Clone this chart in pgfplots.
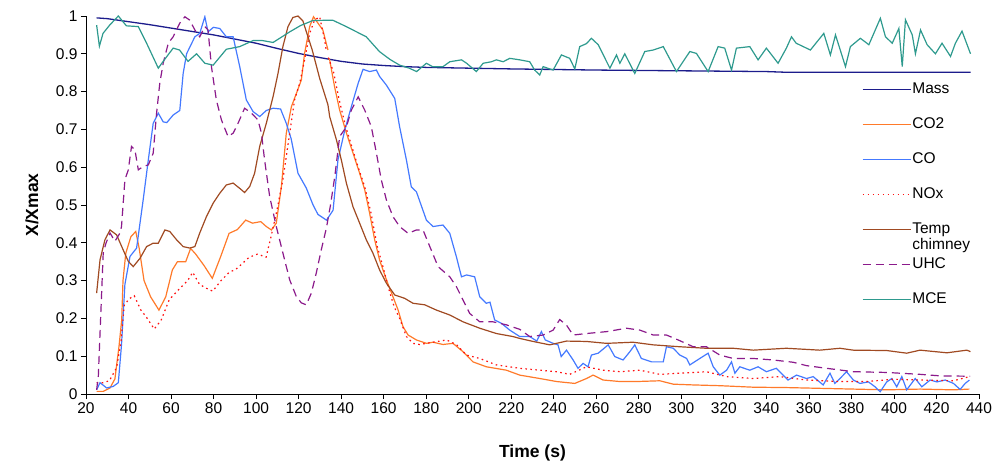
\documentclass[border=0pt]{standalone}
\usepackage{pgfplots}
\pgfplotsset{compat=1.18}
\usepackage{fontspec}
\setmainfont{Liberation Sans}
\definecolor{cMass}{HTML}{1C1C8C}
\definecolor{cCO2}{HTML}{FF7A2A}
\definecolor{cCO}{HTML}{4479FF}
\definecolor{cNOx}{HTML}{FF1010}
\definecolor{cTemp}{HTML}{A04A22}
\definecolor{cUHC}{HTML}{8B1A8B}
\definecolor{cMCE}{HTML}{2E9A8E}
\begin{document}
\begin{tikzpicture}
\begin{axis}[
  scale only axis, width=893pt, height=378pt,
  xmin=20, xmax=440, ymin=0, ymax=1,
  axis x line*=bottom, axis y line*=left,
  axis line style={black, line width=0.8pt, -},
  xtick={20,40,...,440},
  ytick={0,0.1,0.2,0.3,0.4,0.5,0.6,0.7,0.8,0.9,1},
  yticklabels={0,0.1,0.2,0.3,0.4,0.5,0.6,0.7,0.8,0.9,1},
  tick align=outside, major tick length=5pt,
  tick style={black, line width=0.8pt},
  /pgf/number format/assume math mode=true,
  tick label style={font=\fontsize{15.5}{18}\selectfont},
  xlabel={\textbf{Time (s)}}, ylabel={\textbf{X/Xmax}},
  every axis x label/.style={at={(axis description cs:0.5,-0.156)}, anchor=center, font=\fontsize{17.5}{20}\selectfont},
  every axis y label/.style={at={(axis description cs:-0.0605,0.5)}, rotate=90, anchor=center, font=\fontsize{17.5}{20}\selectfont},
  unbounded coords=jump,
  legend style={at={(axis cs:384.9,0.827)}, anchor=north west, draw=none, fill=none,
    inner sep=0pt, row sep=19pt, font=\fontsize{15.5}{16}\selectfont,
    nodes={inner sep=1pt, text height=11pt, text depth=3pt}},
  legend cell align=left,
  legend image code/.code={\draw[#1] (0pt,0pt) -- (48pt,0pt);},
  every axis plot/.append style={line width=1.2pt},
]
% Mass
\addplot[cMass, line width=1.3pt] coordinates {(25,0.995)(30,0.993)(40,0.985)(50,0.977)(60,0.968)(70,0.959)(80,0.95)(90,0.939)(100,0.928)(110,0.914)(120,0.901)(130,0.89)(140,0.88)(150,0.873)(160,0.869)(170,0.866)(180,0.864)(200,0.862)(220,0.86)(260,0.857)(300,0.855)(340,0.853)(350,0.851)(436,0.851)};
\addlegendentry{Mass}
% CO2
\addplot[cCO2] coordinates {(25,0.007)(28.1,0.007)(31.3,0.016)(33.6,0.04)(35.5,0.125)(36.8,0.196)(37.4,0.30)(38.7,0.372)(41.1,0.416)(43.4,0.43)(45,0.386)(47.3,0.30)(50.4,0.257)(54.3,0.222)(57.5,0.257)(60.6,0.328)(63,0.35)(66.9,0.35)(69.2,0.385)(71.6,0.37)(75.5,0.34)(79.4,0.306)(83.3,0.363)(87.3,0.425)(91.2,0.435)(95.1,0.46)(98.3,0.452)(102.2,0.456)(104.8,0.443)(107.2,0.434)(109.5,0.452)(111.9,0.549)(114.2,0.69)(116.6,0.76)(119,0.796)(121.3,0.831)(122.8,0.901)(125.2,0.972)(127,0.998)(129.1,0.981)(131.4,0.963)(133.8,0.91)(133.9,nan)
(134,0.888)(134.6,0.884)(136.9,0.813)(139.3,0.751)(142.5,0.69)(145.6,0.637)(148.7,0.584)(151.1,0.54)(153.4,0.478)(155.8,0.407)(158.1,0.354)(161.3,0.302)(164.4,0.257)(166.8,0.222)(169.1,0.178)(171.5,0.156)(175.4,0.143)(180.1,0.134)(183.2,0.137)(187.9,0.131)(192.6,0.134)(197.3,0.112)(202,0.085)(208.3,0.072)(217.7,0.063)(224,0.05)(233.4,0.041)(241.3,0.033)(249.9,0.028)(255.4,0.041)(258.5,0.05)(263.2,0.037)(271.1,0.033)(278.9,0.033)(289.9,0.035)(296.2,0.026)(305.6,0.024)(318.1,0.022)(333.8,0.018)(349.4,0.017)(365.1,0.015)(380.9,0.013)(396.6,0.011)(412.3,0.013)(428,0.011)(435.5,0.013)};
\addlegendentry{CO2}
% CO
\addplot[cCO] coordinates {(25,0.011)(26.6,0.03)(29.7,0.016)(32.8,0.02)(35.2,0.03)(36.7,0.13)(38.3,0.29)(40.7,0.364)(43.8,0.386)(46.9,0.514)(49.3,0.619)(51.6,0.716)(54,0.743)(56.3,0.72)(58,0.718)(61,0.738)(64.1,0.75)(65.7,0.848)(67.3,0.9)(71.2,0.945)(73.5,0.954)(75.9,0.998)(77.4,0.958)(79.9,0.97)(82.9,0.967)(86,0.945)(89.2,0.945)(92.3,0.866)(95.4,0.778)(98.6,0.747)(101.7,0.734)(104.8,0.75)(108,0.756)(111.5,0.754)(114.2,0.716)(116.5,0.675)(119.7,0.584)(123.6,0.545)(126.8,0.5)(129.1,0.475)(133.1,0.46)(136.2,0.486)(138.5,0.619)(141.7,0.698)(144.8,0.76)(148,0.822)(150.3,0.859)(153.4,0.853)(156.6,0.857)(158.1,0.84)(161.3,0.817)(165.2,0.782)(167.5,0.707)(170.7,0.619)(173,0.548)(175.4,0.535)(180.1,0.46)(183.2,0.443)(187.9,0.447)(191.1,0.425)(194.2,0.363)(196.6,0.31)(199,0.315)(202.8,0.31)(205.2,0.257)(208.3,0.24)(210,0.243)(212.2,0.196)(215.4,0.187)(219.3,0.169)(224,0.152)(228.7,0.152)(232,0.14)(234.2,0.165)(236,0.143)(239.7,0.134)(242,0.13)(243.5,0.099)(246,0.116)(249.1,0.09)(251.4,0.068)(253.8,0.081)(256.1,0.072)(257.7,0.103)(260.9,0.108)(265.6,0.13)(268.7,0.099)(272.6,0.09)(275.8,0.112)(278.1,0.13)(281.2,0.094)(286,0.085)(291.5,0.085)(293,0.125)(296.2,0.121)(299.3,0.103)(302.5,0.094)(304,0.077)(308.7,0.094)(312.6,0.108)(315,0.072)(318.1,0.05)(321.3,0.063)(323.6,0.085)(325.2,0.055)(327.5,0.072)(332.2,0.063)(336.1,0.072)(340,0.059)(344.7,0.068)(347.9,0.05)(350.2,0.037)(354.2,0.05)(358.9,0.041)(362,0.046)(366.7,0.024)(369.9,0.055)(372.2,0.028)(374.6,0.041)(377.7,0.059)(380.9,0.037)(384,0.028)(388,0.032)(391.1,0.019)(393.5,0.006)(396.6,0.032)(399,0.041)(401.3,0.019)(403.7,0.046)(406,0.011)(410,0.041)(413.1,0.019)(417,0.037)(420.2,0.032)(424.1,0.037)(428,0.028)(431.1,0.012)(433.5,0.028)(435.5,0.037)};
\addlegendentry{CO}
% NOx
\addplot[cNOx, dash pattern=on 1.6pt off 3.4pt] coordinates {(25,0.03)(28.1,0.03)(31,0.035)(34.4,0.07)(36.5,0.14)(38,0.235)(40.3,0.252)(42.7,0.26)(45.8,0.222)(48.2,0.205)(52.1,0.172)(55.3,0.195)(59.2,0.25)(63.9,0.278)(67.8,0.3)(70.2,0.322)(73.4,0.29)(76.5,0.28)(79.6,0.272)(83.5,0.3)(87.4,0.322)(90.5,0.33)(93.7,0.346)(96.8,0.362)(100.7,0.37)(104.7,0.362)(107.1,0.418)(109.5,0.478)(112.6,0.567)(115.8,0.69)(118.1,0.778)(120.5,0.822)(122.8,0.884)(125.2,0.954)(127.5,0.989)(129.9,0.998)(132.2,0.937)(133,0.91)(133.3,nan)
(134,0.89)(136.5,0.85)(139,0.78)(142,0.71)(145,0.655)(148,0.6)(151,0.55)(154,0.48)(157,0.39)(160,0.33)(162.8,0.27)(165,0.23)(167.5,0.2)(170.7,0.152)(173.8,0.134)(176.9,0.131)(183.2,0.137)(189.5,0.143)(194.2,0.131)(198.9,0.103)(205.2,0.094)(213,0.077)(224,0.068)(233.4,0.063)(241.3,0.059)(247.5,0.052)(255.4,0.072)(263.2,0.063)(271.1,0.059)(280.5,0.063)(289.9,0.052)(299.3,0.055)(311.8,0.059)(321.3,0.046)(333.8,0.041)(346.3,0.046)(358.9,0.037)(374.6,0.033)(387.1,0.033)(399.7,0.039)(412.3,0.037)(428,0.035)(435.5,0.046)};
\addlegendentry{NOx}
% Temp chimney
\addplot[cTemp] coordinates {(25,0.267)(26.6,0.355)(28.9,0.408)(31.3,0.434)(34.4,0.421)(37.5,0.381)(39.9,0.351)(42.2,0.337)(45.4,0.359)(48.5,0.39)(51.6,0.399)(54,0.399)(57.1,0.434)(59.4,0.43)(62.6,0.408)(65.7,0.39)(68.8,0.386)(71.2,0.39)(73.5,0.426)(76.7,0.47)(79.8,0.505)(82.9,0.531)(86,0.553)(89.2,0.558)(92.3,0.544)(94.6,0.533)(97,0.549)(99.3,0.584)(101.7,0.655)(104.8,0.716)(108,0.787)(110.3,0.848)(112.6,0.919)(115,0.972)(117.3,0.996)(119.7,1.0)(122,0.987)(124.4,0.945)(126.4,0.91)(129.9,0.835)(133.8,0.765)(134.6,0.734)(137.8,0.672)(140.1,0.619)(142.5,0.557)(145.6,0.495)(148.7,0.452)(151.9,0.407)(155,0.372)(158.1,0.328)(161.3,0.293)(165.2,0.262)(169.9,0.253)(173.8,0.24)(179.3,0.236)(184.8,0.222)(191.1,0.209)(197.3,0.191)(205.2,0.174)(213,0.16)(220.8,0.152)(224,0.147)(230.3,0.139)(238.1,0.13)(246,0.14)(255.4,0.139)(264.8,0.134)(277.3,0.137)(286.8,0.13)(299.3,0.125)(311.8,0.121)(324.4,0.121)(333.8,0.116)(349.4,0.121)(365.1,0.116)(374.6,0.121)(380.9,0.116)(396.6,0.115)(406,0.108)(412.3,0.116)(424.9,0.109)(434.3,0.116)(436,0.112)};
\addlegendentry{\smash{\begin{tabular}[t]{@{}l@{}}Temp\\chimney\end{tabular}}}
% UHC
\addplot[cUHC, dash pattern=on 8pt off 5pt] coordinates {(25,0.011)(25.8,0.047)(26.6,0.161)(28.1,0.373)(29.4,0.399)(31.3,0.426)(33.6,0.404)(36,0.426)(36.7,0.443)(38.3,0.567)(39.9,0.593)(41.4,0.655)(43,0.646)(44.6,0.593)(46.9,0.602)(49.3,0.606)(51.6,0.637)(53.2,0.743)(54.7,0.822)(56.3,0.875)(58.7,0.928)(61,0.945)(64.1,0.981)(66.5,0.998)(68.8,0.989)(71.2,0.963)(73.5,0.945)(75.9,0.972)(77.4,0.963)(79,0.866)(81.3,0.778)(83.7,0.725)(86.8,0.681)(89.2,0.69)(91.5,0.716)(94.6,0.756)(97.8,0.743)(100.9,0.725)(102.5,0.69)(104,0.619)(106.4,0.522)(109.5,0.443)(112.6,0.373)(115.8,0.302)(118.9,0.258)(121.3,0.241)(123.6,0.236)(126,0.267)(128.3,0.32)(130.6,0.38)(133.1,0.44)(135,0.5)(137,0.575)(139.3,0.681)(142.5,0.707)(144.8,0.751)(148,0.786)(151.1,0.751)(154.2,0.707)(156.6,0.637)(158.9,0.566)(161.3,0.513)(164.4,0.469)(167.5,0.443)(171.5,0.425)(175.4,0.434)(178.5,0.434)(181.7,0.39)(185.6,0.337)(191.1,0.31)(194.2,0.284)(197.3,0.249)(200.5,0.213)(205.2,0.191)(211.4,0.191)(217.7,0.183)(224,0.171)(228.7,0.152)(235,0.156)(239.7,0.169)(242.8,0.197)(246,0.182)(249.1,0.156)(255.4,0.16)(264.8,0.165)(271.1,0.171)(274.2,0.174)(280.5,0.169)(286.8,0.156)(293,0.156)(297.7,0.145)(305.6,0.125)(311.8,0.125)(318.1,0.103)(324.4,0.094)(333.8,0.094)(343.2,0.09)(352.6,0.084)(358.9,0.075)(368.3,0.068)(380.9,0.059)(396.6,0.057)(412.3,0.052)(421.7,0.048)(435.8,0.047)};
\addlegendentry{UHC}
% MCE
\addplot[cMCE] coordinates {(25,0.976)(26.3,0.92)(28,0.954)(31,0.975)(35.2,1.0)(39,0.974)(44.6,0.972)(48.5,0.928)(54,0.862)(56.3,0.88)(61,0.915)(64,0.91)(68,0.88)(72,0.90)(75.9,0.875)(79.8,0.87)(86,0.912)(92.3,0.919)(98.6,0.935)(103,0.935)(108,0.93)(115.8,0.958)(121,0.975)(126.7,0.988)(136,0.989)(142.4,0.972)(151.8,0.945)(158,0.906)(163,0.885)(167.5,0.870)(172,0.862)(175.5,0.853)(180.1,0.875)(183,0.866)(187.9,0.866)(191.1,0.879)(196.6,0.884)(199,0.875)(203.6,0.853)(206.8,0.875)(210.7,0.879)(213,0.884)(216.2,0.879)(219.3,0.888)(224,0.884)(228.7,0.879)(231,0.857)(233.4,0.844)(235,0.866)(239.7,0.857)(243.6,0.897)(247.5,0.888)(249.9,0.86)(252.2,0.919)(255.4,0.927)(257.7,0.941)(260.9,0.924)(266.4,0.862)(269.5,0.897)(271.1,0.875)(273.4,0.9)(278.1,0.848)(282.8,0.906)(286.8,0.91)(291.5,0.919)(297.7,0.853)(304,0.906)(307.1,0.901)(312.6,0.853)(317.3,0.919)(320.4,0.915)(323.6,0.857)(325.9,0.915)(332.2,0.919)(336.1,0.884)(340,0.915)(345.5,0.875)(349.4,0.915)(351.8,0.945)(354,0.928)(360.7,0.91)(367,0.954)(370.1,0.897)(372.5,0.95)(377.2,0.866)(379.5,0.919)(384.2,0.941)(388.2,0.924)(393.6,0.994)(396,0.945)(399.2,0.928)(402.3,0.967)(403.9,0.866)(405.4,0.99)(408.6,0.95)(410.1,0.9)(412.5,0.963)(415.6,0.924)(419.5,0.9)(422.6,0.928)(426.6,0.893)(428.9,0.928)(432,0.96)(436,0.9)};
\addlegendentry{MCE}
\end{axis}
\pgfresetboundingbox
\useasboundingbox (-86pt,-75pt) rectangle (914pt,394pt);
\end{tikzpicture}
\end{document}
